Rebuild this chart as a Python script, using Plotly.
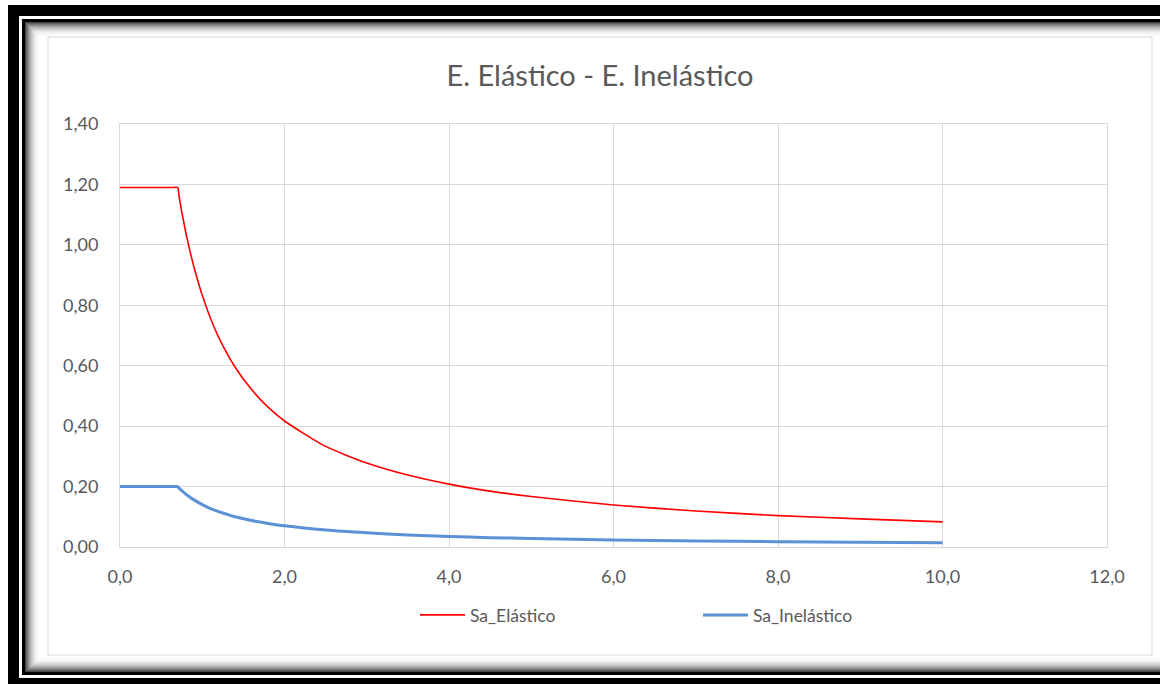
import plotly.graph_objects as go

# ---- data ----
periodo = [0.0, 0.5, 0.65, 0.7, 0.72, 0.75, 0.8, 0.85, 0.9, 1.0, 1.1, 1.2, 1.4, 1.6, 1.8,
           2.0, 2.5, 3.0, 3.5, 4.0, 4.5, 5.0, 6.0, 7.0, 8.0, 9.0, 10.0]
sa_elastico = [1.19, 1.19, 1.19, 1.19, 1.157, 1.111, 1.041, 0.98, 0.926, 0.833, 0.757, 0.694,
               0.595, 0.521, 0.463, 0.417, 0.333, 0.278, 0.238, 0.208, 0.185, 0.167, 0.139,
               0.119, 0.104, 0.093, 0.083]
sa_inelastico = [0.20, 0.20, 0.20, 0.20, 0.194, 0.187, 0.175, 0.165, 0.156, 0.14, 0.127, 0.117,
                 0.10, 0.0875, 0.078, 0.07, 0.056, 0.047, 0.04, 0.035, 0.031, 0.028, 0.023,
                 0.02, 0.0175, 0.0156, 0.014]
series_names = ["Sa_Elástico", "Sa_Inelástico"]
titulo = "E. Elástico - E. Inelástico"
x_ticks = [0, 2, 4, 6, 8, 10, 12]
y_ticks = [0, 0.2, 0.4, 0.6, 0.8, 1.0, 1.2, 1.4]

# ---- layout geometry (pixels) ----
W, H = 1160, 684
L, R, T, B = 120, 1107, 124, 547
PW, PH = R - L, B - T


def px(xp):
    return (xp - L) / PW


def py(yp):
    return (B - yp) / PH


TXT = "#595959"
GRID = "#d9d9d9"
FONT = "Lato, 'Open Sans', sans-serif"

fig = go.Figure()
fig.add_trace(go.Scatter(x=periodo, y=sa_elastico, mode="lines", name=series_names[0],
                         line=dict(color="#FF0000", width=1.6, shape="spline", smoothing=0.6)))
fig.add_trace(go.Scatter(x=periodo, y=sa_inelastico, mode="lines", name=series_names[1],
                         line=dict(color="#5B8FD6", width=3, shape="spline", smoothing=0.6)))

shapes = []


def rect(x0, y0, x1, y1, fill=None, line=None, lw=0, layer="below"):
    d = dict(type="rect", xref="paper", yref="paper", x0=px(x0), x1=px(x1), y0=py(y0), y1=py(y1),
             layer=layer, line=dict(width=lw, color=line or "rgba(0,0,0,0)"))
    if fill:
        d["fillcolor"] = fill
    shapes.append(d)


# outer black frame with thin white line and inner shadow
rect(8, 5, 1200, 700, fill="#000000")
rect(19, 16, 1200, 678, fill="#ffffff")
rect(22, 19, 1200, 675, fill="#000000")
n = 16
for i in range(n):
    t = i / (n - 1)
    g = int(70 + 185 * (1 - (1 - t) ** 2.2))
    g = min(g, 255)
    rect(25 + i, 22 + i, 1178 - i, 672 - i, fill=f"rgb({g},{g},{g})")
rect(41, 38, 1162, 656, fill="#ffffff")
# chart area border
rect(48, 37, 1152, 655, line=GRID, lw=1)

fig.update_layout(
    width=W, height=H,
    margin=dict(l=L, r=W - R, t=T, b=H - B, pad=0),
    paper_bgcolor="white", plot_bgcolor="rgba(0,0,0,0)",
    separators=",.",
    shapes=shapes,
    title=dict(text=titulo, x=px(600), xref="paper", xanchor="center",
               y=1 - 76 / H, yref="container", yanchor="middle",
               font=dict(family=FONT, size=29, color=TXT)),
    font=dict(family=FONT, size=18, color=TXT),
    showlegend=True,
    legend=dict(orientation="h", x=px(415), xanchor="left", y=py(615), yanchor="middle",
                entrywidth=223, entrywidthmode="pixels", itemwidth=45,
                font=dict(family=FONT, size=17.5, color=TXT), bgcolor="rgba(0,0,0,0)"),
    xaxis=dict(range=[0, 12], tickvals=x_ticks, tickformat=".1f", showgrid=True, gridcolor=GRID,
               gridwidth=1, showline=True, linecolor=GRID, linewidth=1, mirror=True,
               zeroline=False, ticks="outside", ticklen=13, tickcolor="rgba(0,0,0,0)",
               tickfont=dict(family=FONT, size=18, color=TXT), fixedrange=True),
    yaxis=dict(range=[0, 1.4], tickvals=y_ticks, tickformat=".2f", showgrid=True, gridcolor=GRID,
               gridwidth=1, showline=True, linecolor=GRID, linewidth=1, mirror=True,
               zeroline=False, ticks="outside", ticklen=17, tickcolor="rgba(0,0,0,0)",
               tickfont=dict(family=FONT, size=18, color=TXT), fixedrange=True),
)

fig.write_html("out.html", config={"displayModeBar": False},
               post_script="document.body.style.margin='0';document.body.style.overflow='hidden';")
